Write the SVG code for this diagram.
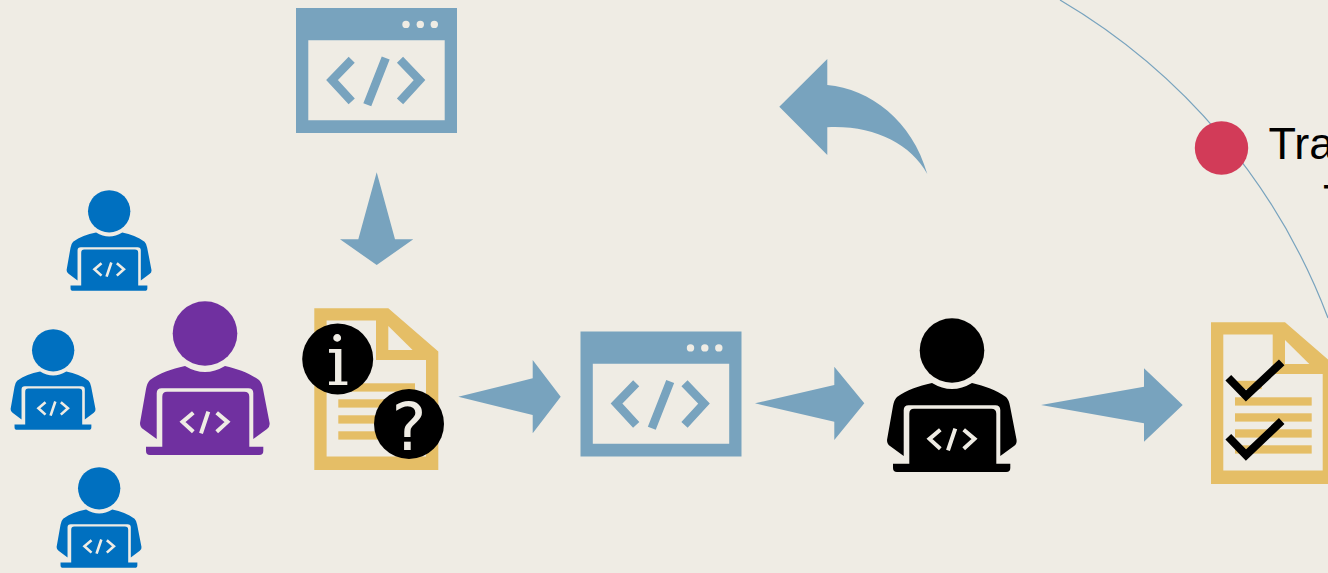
<svg xmlns="http://www.w3.org/2000/svg" xmlns:xlink="http://www.w3.org/1999/xlink" width="1328" height="573" viewBox="0 0 1328 573">
<style>
.bg{fill:#EFECE4}
.arrow{fill:#78A3BE}
.gold{fill:#E5BE66}
.win{fill:#78A3BE}
.wc{fill:none;stroke:#78A3BE;stroke-width:8.5}
.pc{fill:none;stroke:#EFECE4;stroke-width:4}
.chk{fill:none;stroke:#000;stroke-width:8}
.lbl{font-family:"Liberation Sans",Arial,sans-serif;font-size:45px;fill:#000}
</style>
<defs>
<g id="person">
<circle cx="65" cy="32.5" r="32.3"/>
<path d="M45 65C31 68 20 72 10 79Q7 82 6 88L0 122Q0 126 3 128L16.7 138V92.3Q16.7 87.3 21.7 87.3H108.3Q113.3 87.3 113.3 92.3V138L127 128Q130 126 129.6 122L123 88Q122 82 119 79C109 72 98 68 85 65Q75 71 65 71Q55 71 45 65Z"/>
<path d="M27 90.7H104.3Q109.3 90.7 109.3 95.7V145.7H123.3V150Q123.3 154 119.3 154H10Q6 154 6 150V145.7H22.3V95.7Q22.3 90.7 27 90.7Z"/>
<path class="pc" d="M53.3 111.7L42.5 120.9L53.3 130.7M68.3 110.7L61 132.3M76.7 111.7L87.5 120.9L76.7 130.7"/>
</g>
<g id="window">
<path class="win" fill-rule="evenodd" d="M0 0H161V125H0ZM12.3 32.3V112.3H148.7V32.3Z"/>
<circle class="bg" cx="110" cy="16.4" r="3.7"/>
<circle class="bg" cx="124.3" cy="16.4" r="3.7"/>
<circle class="bg" cx="138.3" cy="16.4" r="3.7"/>
<path class="wc" d="M55.7 51.7L36 72L55.7 93.3M89.7 50L71.3 96.7M104 51.7L123.5 72L104 93.3"/>
</g>
<g id="doc">
<path class="gold" fill-rule="evenodd" d="M0 0H74L124 43.3V161.7H0ZM12.3 12.3V148.3H111.7V51.7H61.7V12.3Z"/>
<path class="bg" d="M74 17.7V41.7H98.3Z"/>
<rect class="gold" x="24" y="58.5" width="26.7" height="8.3"/>
<rect class="gold" x="24" y="75" width="76.7" height="8.3"/>
<rect class="gold" x="24" y="91" width="76.7" height="8.3"/>
<rect class="gold" x="24" y="107" width="76.7" height="8.3"/>
<rect class="gold" x="24" y="123" width="76.7" height="8.3"/>
</g>
</defs>
<rect class="bg" width="1328" height="573"/>
<g id="connectors">
<path d="M1060 0A625 625 0 0 1 1328 318" fill="none" stroke="#78A3BE" stroke-width="1.2"/>
<path class="arrow" d="M376.7 172.3L395 239.3H413.3L376.7 265L340 239.3H358.3Z"/>
<path class="arrow" d="M458.3 396.7L532.7 378.3V360L560.7 396.7L532.7 433.3V415Z"/>
<path class="arrow" d="M755 403.3L834.3 385V366.7L864.3 403.3L834.3 440V421.7Z"/>
<path class="arrow" d="M1041 405L1144 386.7V368.3L1182.7 405L1144 441.7V423.3Z"/>
<path class="arrow" d="M779.3 106.7L827.3 59V85C870 89 912 120 927.3 174C910 143 873 125 827.3 127.3V155Z"/>
</g>
<g id="dev-1" fill="#0070C0"><use href="#person" transform="translate(66.6 190) scale(.655)"/></g>
<g id="dev-2" fill="#0070C0"><use href="#person" transform="translate(10.6 329) scale(.655)"/></g>
<g id="dev-3" fill="#0070C0"><use href="#person" transform="translate(56.6 467) scale(.655)"/></g>
<g id="lead" fill="#7030A0"><use href="#person" transform="translate(140 301)"/></g>
<g id="window-top"><use href="#window" transform="translate(296 8)"/></g>
<g id="requirements-doc">
<use href="#doc" transform="translate(314.3 308.3)"/>
<circle cx="337.7" cy="359" r="35.5" fill="#000"/>
<text x="337.7" y="385" text-anchor="middle" font-family="'DejaVu Serif',serif" font-size="70" fill="#EFECE4">i</text>
<circle cx="409" cy="424" r="35" fill="#000"/>
<text x="409" y="450" text-anchor="middle" font-family="'DejaVu Sans',sans-serif" font-size="66" fill="#EFECE4">?</text>
</g>
<g id="window-mid"><use href="#window" transform="translate(580.5 331.5)"/></g>
<g id="developer" fill="#000"><use href="#person" transform="translate(887 318)"/></g>
<g id="checklist-doc">
<use href="#doc" transform="translate(1211 322.3)"/>
<path class="chk" d="M1228.3 377.7L1246 396L1281.7 362.3"/>
<path class="chk" d="M1228.3 436.7L1246 455L1281.7 421"/>
</g>
<g id="milestone">
<circle cx="1221.5" cy="148" r="26.7" fill="#D23B58"/>
<text class="lbl" x="1268.5" y="158.5">Tra</text>
<text class="lbl" x="1323" y="216">T</text>
</g>
</svg>
